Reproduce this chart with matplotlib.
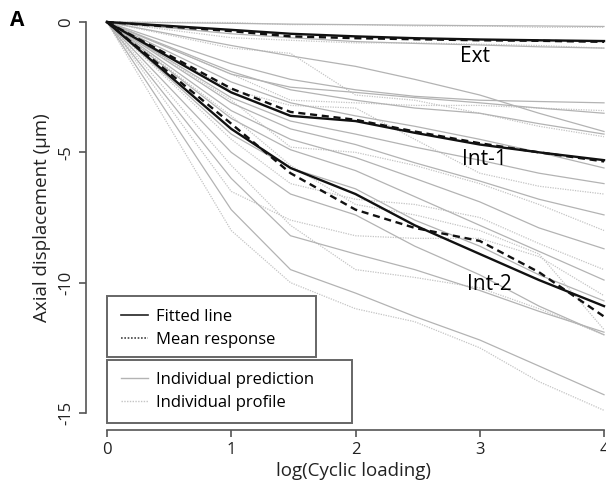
import matplotlib.pyplot as plt
from matplotlib.lines import Line2D
from matplotlib.patches import Rectangle

plt.rcParams['font.family'] = ['Open Sans', 'DejaVu Sans']

# log10 of cyclic loading steps
log_cycles = [0, 1, 1.477, 2, 2.477, 3, 3.477, 4]

# fitted lines / mean responses per location
ext_fit = [0, -0.30, -0.45, -0.55, -0.62, -0.67, -0.70, -0.73]
ext_mean = [0, -0.35, -0.55, -0.62, -0.66, -0.70, -0.72, -0.76]
int1_fit = [0, -2.70, -3.60, -3.80, -4.25, -4.70, -5.00, -5.30]
int1_mean = [0, -2.55, -3.45, -3.75, -4.20, -4.65, -5.00, -5.35]
int2_fit = [0, -4.10, -5.60, -6.60, -7.80, -8.90, -9.90, -10.90]
int2_mean = [0, -3.90, -5.80, -7.20, -7.90, -8.40, -9.60, -11.30]

# individual predictions (solid grey)
predictions = [
    [0, -0.05, -0.08, -0.10, -0.12, -0.14, -0.15, -0.17],
    [0, -0.45, -0.60, -0.75, -0.82, -0.88, -0.95, -1.00],
    [0, -0.90, -1.30, -1.70, -2.20, -2.80, -3.50, -4.20],
    [0, -1.60, -2.20, -2.60, -2.85, -3.00, -3.05, -3.10],
    [0, -1.90, -2.60, -3.00, -3.30, -3.50, -3.90, -4.30],
    [0, -2.00, -2.50, -2.70, -2.90, -3.10, -3.30, -3.50],
    [0, -2.30, -3.10, -3.60, -4.00, -4.50, -5.00, -5.60],
    [0, -2.90, -3.80, -4.30, -4.80, -5.30, -5.80, -6.20],
    [0, -3.10, -4.10, -4.70, -5.40, -6.10, -6.80, -7.40],
    [0, -3.40, -4.50, -5.20, -6.00, -6.90, -7.90, -8.70],
    [0, -3.70, -4.90, -5.70, -6.70, -7.80, -8.80, -9.90],
    [0, -4.30, -5.60, -6.40, -7.60, -8.60, -9.70, -10.70],
    [0, -5.00, -6.60, -7.40, -8.60, -9.70, -10.90, -12.00],
    [0, -6.00, -8.20, -8.90, -9.50, -10.30, -11.10, -11.90],
    [0, -7.20, -9.50, -10.40, -11.30, -12.20, -13.20, -14.30],
]

# individual observed profiles (dotted grey)
profiles = [
    [0, -0.02, -0.10, -0.10, -0.15, -0.15, -0.20, -0.20],
    [0, -0.60, -0.70, -0.80, -0.80, -0.85, -0.90, -1.00],
    [0, -1.00, -1.20, -2.80, -3.00, -3.50, -4.00, -4.40],
    [0, -2.00, -3.00, -3.10, -3.20, -3.20, -3.30, -3.40],
    [0, -2.60, -3.20, -3.30, -4.50, -5.80, -6.30, -6.60],
    [0, -3.00, -4.80, -5.00, -5.50, -6.20, -7.00, -8.00],
    [0, -3.60, -5.50, -7.00, -7.40, -8.00, -8.90, -11.80],
    [0, -4.50, -6.20, -6.80, -7.00, -7.50, -8.50, -9.50],
    [0, -5.50, -7.80, -9.50, -9.80, -10.20, -11.00, -12.00],
    [0, -6.50, -7.60, -8.20, -8.30, -8.30, -9.00, -10.50],
    [0, -8.00, -10.00, -11.00, -11.50, -12.50, -13.80, -14.90],
]

W, H = 606, 483
fig = plt.figure(figsize=(W/100, H/100), dpi=100)
ax = fig.add_axes([100/W, 1-420/H, 506/W, 405/H])

for p in profiles:
    ax.plot(log_cycles, p, color='#c4c4c4', lw=0.9, ls=(0, (1, 1)))
for p in predictions:
    ax.plot(log_cycles, p, color='#b3b3b3', lw=0.9)

for fit, mean in [(ext_fit, ext_mean), (int1_fit, int1_mean), (int2_fit, int2_mean)]:
    ax.plot(log_cycles, mean, color='#111111', lw=1.7, ls=(0, (3, 2)))
    ax.plot(log_cycles, fit, color='#111111', lw=1.7)

ax.text(2.96, -1.34, 'Ext', fontsize=15, ha='center', va='center')
ax.text(3.04, -5.29, 'Int-1', fontsize=15, ha='center', va='center')
ax.text(3.08, -10.09, 'Int-2', fontsize=15, ha='center', va='center')

ax.set_xlim(-0.0563, 4.016)
ax.set_ylim(-15.27, 0.27)

for s in ['top', 'right']:
    ax.spines[s].set_visible(False)
ax.spines['left'].set_position(('outward', 10))
ax.spines['bottom'].set_position(('outward', 7))
ax.spines['left'].set_bounds(-15, 0)
ax.spines['bottom'].set_bounds(0, 4)
for s in ['left', 'bottom']:
    ax.spines[s].set_color('#555555')
    ax.spines[s].set_linewidth(1.2)

ax.set_xticks([0, 1, 2, 3, 4])
ax.set_yticks([0, -5, -10, -15])
ax.set_yticklabels(['0', '-5', '-10', '-15'], rotation=90, va='center')
ax.tick_params(colors='#555555', labelcolor='#222222', length=5, width=1.2, labelsize=12)

ax.set_xlabel('log(Cyclic loading)', fontsize=13.5, color='#222222', labelpad=3)
ax.set_ylabel('Axial displacement (μm)', fontsize=13.5, color='#222222', labelpad=5)
fig.text(10/W, 1-20/H, 'A', fontsize=15, fontweight='bold', va='center')

# legend frames, drawn as R draws them (wider than their text)
for x0, y0, x1, y1 in [(107, 296, 316, 357), (107, 360, 352, 423)]:
    ax.add_patch(Rectangle((x0/W, 1-y1/H), (x1-x0)/W, (y1-y0)/H,
                           transform=fig.transFigure, facecolor='white',
                           edgecolor='#666666', lw=1.4, zorder=3, clip_on=False))

leg_kw = dict(loc='upper left', bbox_transform=fig.transFigure, frameon=False, fontsize=12,
              handlelength=1.6, handletextpad=0.5, borderpad=0, labelspacing=0.4,
              borderaxespad=0)
leg1 = ax.legend(
    handles=[Line2D([], [], color='#222222', lw=1.2),
             Line2D([], [], color='#444444', lw=1.2, ls=(0, (1, 1)))],
    labels=['Fitted line', 'Mean response'],
    bbox_to_anchor=(121/W, 1-309/H), **leg_kw)
leg1.set_zorder(5)
ax.add_artist(leg1)

leg2 = ax.legend(
    handles=[Line2D([], [], color='#b3b3b3', lw=1.0),
             Line2D([], [], color='#c4c4c4', lw=1.0, ls=(0, (1, 1)))],
    labels=['Individual prediction', 'Individual profile'],
    bbox_to_anchor=(121/W, 1-372/H), **leg_kw)
leg2.set_zorder(5)

fig.savefig('out.png', dpi=100)
